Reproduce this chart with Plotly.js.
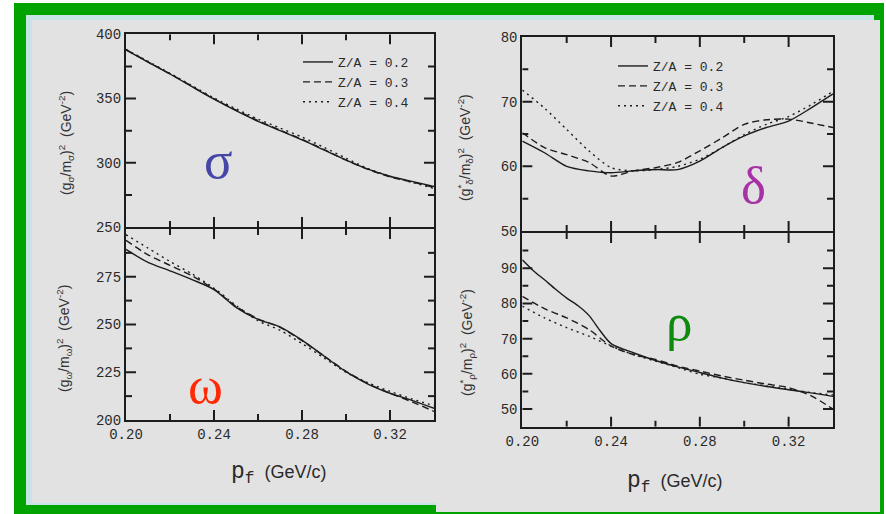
<!DOCTYPE html>
<html>
<head>
<meta charset="utf-8">
<script src="https://cdn.plot.ly/plotly-3.0.1.min.js"></script>
<style>
  html, body { margin: 0; padding: 0; background: #ffffff; }
  #chart { width: 886px; height: 514px; }
</style>
</head>
<body>
<div id="chart"></div>
<script>
// Fermi momentum grid (GeV/c)
const pf = [0.20, 0.21, 0.22, 0.23, 0.24, 0.25, 0.26, 0.27, 0.28, 0.29, 0.30, 0.31, 0.32, 0.33, 0.34];
const pfRhoFine = [0.20, 0.205, 0.21, 0.215, 0.22, 0.225, 0.23, 0.235, 0.24, 0.25, 0.26, 0.27, 0.28, 0.29, 0.30, 0.31, 0.32, 0.33, 0.34];

const seriesNames = ['Z/A = 0.2', 'Z/A = 0.3', 'Z/A = 0.4'];

// (g_sigma/m_sigma)^2  (GeV^-2)
const sigma02 = [387.8, 378.4, 369.1, 359.2, 349.5, 340.5, 332.2, 325.0, 317.8, 310.0, 302.2, 295.0, 289.5, 285.5, 281.5];
const sigma03 = [388.0, 378.6, 369.3, 359.5, 349.8, 341.0, 332.8, 325.5, 318.2, 310.3, 302.0, 294.8, 289.0, 285.0, 280.8];
const sigma04 = [388.3, 379.0, 369.6, 360.0, 350.5, 342.0, 334.0, 327.0, 320.0, 312.0, 303.5, 295.5, 289.5, 284.8, 280.0];

// (g_omega/m_omega)^2  (GeV^-2)
const omega02 = [289.3, 282.5, 278.1, 273.5, 268.3, 259.0, 252.7, 248.8, 241.8, 233.5, 225.3, 218.8, 214.0, 210.3, 206.1];
const omega03 = [294.0, 286.5, 281.0, 275.5, 268.5, 259.5, 253.0, 248.5, 241.5, 233.5, 225.5, 219.0, 214.0, 209.5, 204.5];
const omega04 = [297.0, 290.0, 283.0, 276.5, 269.0, 260.0, 252.0, 247.0, 240.0, 232.5, 225.0, 219.5, 215.0, 211.0, 207.5];

// (g*_delta/m_delta)^2  (GeV^-2)
const delta02 = [63.9, 62.1, 60.0, 59.3, 59.0, 59.3, 59.5, 59.5, 60.8, 62.9, 64.7, 66.0, 67.0, 69.0, 71.2];
const delta03 = [65.2, 62.9, 61.8, 60.6, 58.5, 59.3, 59.8, 60.6, 62.4, 64.4, 66.5, 67.2, 67.3, 66.7, 66.0];
const delta04 = [71.8, 69.0, 65.7, 62.4, 59.8, 59.3, 59.5, 60.0, 61.1, 62.9, 64.9, 66.5, 67.7, 69.5, 71.6];

// (g*_rho/m_rho)^2  (GeV^-2)
const rho02 = [92.4, 89.3, 86.7, 84.0, 81.5, 79.4, 76.6, 72.3, 68.6, 66.0, 63.8, 62.0, 60.4, 58.8, 57.5, 56.4, 55.5, 54.6, 53.6];
const rho03 = [82.0, 78.5, 75.9, 72.6, 67.9, 65.5, 64.1, 62.2, 60.8, 59.4, 58.2, 57.1, 56.1, 53.8, 50.0];
const rho04 = [79.2, 75.9, 73.1, 70.7, 67.9, 65.5, 63.6, 61.8, 59.9, 58.8, 57.5, 56.6, 55.6, 54.7, 54.0];

// interior tick positions (tick marks on both sides of each frame)
const pfMajor = [0.24, 0.28, 0.32];
const pfMinor = [0.22, 0.26, 0.30];
const sigmaMajor = [300, 350], sigmaMinor = [275, 325, 375];
const omegaMajor = [225, 250, 275], omegaMinor = [212.5, 237.5, 262.5, 287.5];
const deltaMajor = [60, 70], deltaMinor = [55, 65, 75];
const rhoMajor = [50, 60, 70, 80, 90], rhoMinor = [55, 65, 75, 85, 95];

const INK = '#1c1c1c';
const dashes = ['solid', '7px,4px', '2px,4px'];

const W = 886, H = 514;
const px = v => v / W;
const py = v => 1 - v / H;

// panel frames in page pixels and their data ranges
const panels = {
  sigma: { xa: 'x',  ya: 'y',  left: 126,   right: 434, top: 34.3, bottom: 227,   xr: [0.20, 0.34], yr: [250, 400],
           yMajor: sigmaMajor, yMinor: sigmaMinor },
  omega: { xa: 'x2', ya: 'y2', left: 126,   right: 434, top: 229,  bottom: 420,   xr: [0.20, 0.34], yr: [200, 299.99],
           yMajor: omegaMajor, yMinor: omegaMinor },
  delta: { xa: 'x3', ya: 'y3', left: 522.3, right: 833, top: 37,   bottom: 231,   xr: [0.20, 0.34], yr: [50, 80],
           yMajor: deltaMajor, yMinor: deltaMinor },
  rho:   { xa: 'x4', ya: 'y4', left: 522.3, right: 833, top: 233,  bottom: 426.7, xr: [0.20, 0.34], yr: [45, 99.99],
           yMajor: rhoMajor, yMinor: rhoMinor }
};

function curve(x, y, k, p, legendName, show) {
  return {
    x: x, y: y, xaxis: p.xa, yaxis: p.ya, type: 'scatter', mode: 'lines',
    name: seriesNames[k], legend: legendName, legendgroup: legendName + k, showlegend: show,
    line: { color: INK, width: 1.4, dash: dashes[k], shape: 'spline', smoothing: 0.8 },
    hoverinfo: 'skip'
  };
}

// inward tick marks on all four sides of a panel, lengths given in pixels
const MAJOR_LEN = 10, MINOR_LEN = 6;
function tickMarks(p) {
  const yPerPx = (p.yr[1] - p.yr[0]) / (p.bottom - p.top);
  const xPerPx = (p.xr[1] - p.xr[0]) / (p.right - p.left);
  const xs = [], ys = [];
  [[pfMajor, MAJOR_LEN], [pfMinor, MINOR_LEN]].forEach(([vals, len]) => vals.forEach(v => {
    xs.push(v, v, null, v, v, null);
    ys.push(p.yr[0], p.yr[0] + len * yPerPx, null, p.yr[1], p.yr[1] - len * yPerPx, null);
  }));
  [[p.yMajor, MAJOR_LEN], [p.yMinor, MINOR_LEN]].forEach(([vals, len]) => vals.forEach(v => {
    xs.push(p.xr[0], p.xr[0] + len * xPerPx, null, p.xr[1], p.xr[1] - len * xPerPx, null);
    ys.push(v, v, null, v, v, null);
  }));
  return {
    x: xs, y: ys, xaxis: p.xa, yaxis: p.ya, type: 'scatter', mode: 'lines',
    connectgaps: false, showlegend: false, hoverinfo: 'skip', cliponaxis: false,
    line: { color: INK, width: 2 }
  };
}

const traces = [
  curve(pf, sigma02, 0, panels.sigma, 'legend', true),
  curve(pf, sigma03, 1, panels.sigma, 'legend', true),
  curve(pf, sigma04, 2, panels.sigma, 'legend', true),
  curve(pf, omega02, 0, panels.omega, 'legend', false),
  curve(pf, omega03, 1, panels.omega, 'legend', false),
  curve(pf, omega04, 2, panels.omega, 'legend', false),
  curve(pf, delta02, 0, panels.delta, 'legend2', true),
  curve(pf, delta03, 1, panels.delta, 'legend2', true),
  curve(pf, delta04, 2, panels.delta, 'legend2', true),
  curve(pfRhoFine, rho02, 0, panels.rho, 'legend2', false),
  curve(pf, rho03, 1, panels.rho, 'legend2', false),
  curve(pf, rho04, 2, panels.rho, 'legend2', false),
  tickMarks(panels.sigma), tickMarks(panels.omega), tickMarks(panels.delta), tickMarks(panels.rho)
];

const tickFont = { family: 'Liberation Mono, monospace', size: 14, color: '#2a2a2a' };

function xFrame(p, labels) {
  return {
    domain: [px(p.left), px(p.right)], anchor: p.ya, range: p.xr,
    tickmode: 'linear', tick0: 0.20, dtick: 0.04, tickformat: '.2f',
    showticklabels: labels, tickfont: tickFont, ticks: '',
    showline: true, linecolor: INK, linewidth: 2, mirror: true,
    showgrid: false, zeroline: false, fixedrange: true
  };
}
function yFrame(p, tick0, dtick) {
  return {
    domain: [py(p.bottom), py(p.top)], anchor: p.xa, range: p.yr,
    tickmode: 'linear', tick0: tick0, dtick: dtick,
    tickfont: tickFont, ticks: '',
    showline: true, linecolor: INK, linewidth: 2, mirror: true,
    showgrid: false, zeroline: false, fixedrange: true
  };
}

const yTitle = (x, y, text) => ({
  xref: 'paper', yref: 'paper', x: px(x), y: py(y), xanchor: 'center', yanchor: 'middle',
  text: text, textangle: -90, showarrow: false,
  font: { family: 'Liberation Sans, Arial, sans-serif', size: 14, color: '#333333' }
});

const xTitle = (x, y) => ({
  xref: 'paper', yref: 'paper', x: px(x), y: py(y), xanchor: 'center', yanchor: 'middle',
  text: '<span style="font-family:Liberation Mono;font-size:23px">p<sub>f</sub></span>  (GeV/c)',
  showarrow: false,
  font: { family: 'Liberation Sans, Arial, sans-serif', size: 18, color: '#2a2a2a' }
});

const greek = (x, y, text, color) => ({
  xref: 'paper', yref: 'paper', x: px(x), y: py(y), xanchor: 'center', yanchor: 'middle',
  text: text, showarrow: false,
  font: { family: 'Liberation Serif, DejaVu Serif, serif', size: 53, color: color }
});

const legendStyle = {
  xanchor: 'left', yanchor: 'top',
  bgcolor: 'rgba(0,0,0,0)', borderwidth: 0, tracegroupgap: 0,
  font: { family: 'Liberation Mono, monospace', size: 13, color: '#2a2a2a' },
  itemwidth: 30
};

const layout = {
  width: W, height: H,
  margin: { l: 0, r: 0, t: 0, b: 0 },
  paper_bgcolor: '#ffffff',
  plot_bgcolor: 'rgba(0,0,0,0)',
  showlegend: true,
  xaxis: xFrame(panels.sigma, false),
  yaxis: yFrame(panels.sigma, 250, 50),
  xaxis2: xFrame(panels.omega, true),
  yaxis2: yFrame(panels.omega, 200, 25),
  xaxis3: xFrame(panels.delta, false),
  yaxis3: yFrame(panels.delta, 50, 10),
  xaxis4: xFrame(panels.rho, true),
  yaxis4: yFrame(panels.rho, 50, 10),
  legend: Object.assign({ x: px(298), y: py(47) }, legendStyle),
  legend2: Object.assign({ x: px(613), y: py(51) }, legendStyle),
  shapes: [
    // slide frame: green border, pale cyan rim, grey panels
    { type: 'rect', xref: 'paper', yref: 'paper', layer: 'below', x0: px(14), x1: px(884), y0: py(514), y1: py(3), fillcolor: '#00a300', line: { width: 0 } },
    { type: 'rect', xref: 'paper', yref: 'paper', layer: 'below', x0: px(26), x1: px(874), y0: py(505), y1: py(15), fillcolor: '#c6e4e6', line: { width: 0 } },
    { type: 'rect', xref: 'paper', yref: 'paper', layer: 'below', x0: px(32), x1: px(436), y0: py(503), y1: py(20), fillcolor: '#e2e2e2', line: { width: 0 } },
    { type: 'rect', xref: 'paper', yref: 'paper', layer: 'below', x0: px(436), x1: px(880), y0: py(512), y1: py(20), fillcolor: '#e2e2e2', line: { width: 0 } }
  ],
  annotations: [
    yTitle(66, 143, '(g<sub>σ</sub>/m<sub>σ</sub>)<sup>2</sup>  (GeV<sup>-2</sup>)'),
    yTitle(64, 338, '(g<sub>ω</sub>/m<sub>ω</sub>)<sup>2</sup>  (GeV<sup>-2</sup>)'),
    yTitle(465, 147, '(g<sup>*</sup><sub>δ</sub>/m<sub>δ</sub>)<sup>2</sup>  (GeV<sup>-2</sup>)'),
    yTitle(467, 343, '(g<sup>*</sup><sub>ρ</sub>/m<sub>ρ</sub>)<sup>2</sup>  (GeV<sup>-2</sup>)'),
    xTitle(279, 473),
    xTitle(675, 482),
    greek(218, 160, 'σ', '#4646a8'),
    greek(205, 385, 'ω', '#ff2a05'),
    greek(753, 185, 'δ', '#a632a6'),
    greek(679, 322, 'ρ', '#0e8a0e')
  ]
};

Plotly.newPlot('chart', traces, layout, { displayModeBar: false, staticPlot: true });
</script>
</body>
</html>
